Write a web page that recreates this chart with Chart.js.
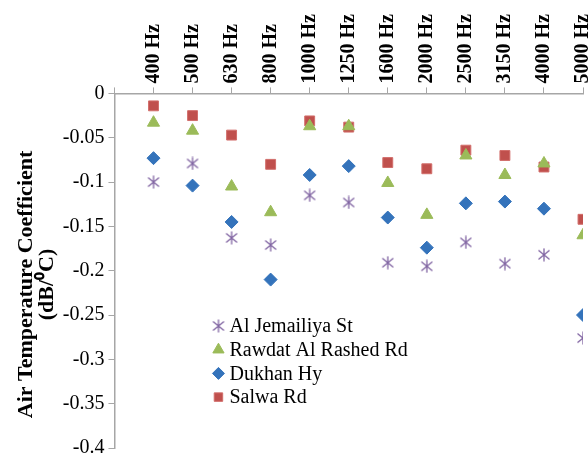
<!DOCTYPE html>
<html>
<head>
<meta charset="utf-8">
<script src="https://cdn.jsdelivr.net/npm/chart.js@4.4.0/dist/chart.umd.min.js"></script>
<style>
  html, body { margin: 0; padding: 0; background: #fff; overflow: hidden; }
  #wrap { width: 610px; height: 462px; position: relative; }
</style>
</head>
<body>
<div id="wrap"><canvas id="chart"></canvas></div>
<script>
// ---- data ----
const categories = ['400 Hz', '500 Hz', '630 Hz', '800 Hz', '1000 Hz', '1250 Hz',
  '1600 Hz', '2000 Hz', '2500 Hz', '3150 Hz', '4000 Hz', '5000 Hz'];
const alJemailiya = [-0.100, -0.079, -0.163, -0.171, -0.115, -0.123, -0.191, -0.195, -0.168, -0.192, -0.182, -0.276];
const rawdatAlRashed = [-0.033, -0.042, -0.105, -0.134, -0.037, -0.037, -0.101, -0.137, -0.070, -0.092, -0.079, -0.160];
const dukhanHy = [-0.073, -0.104, -0.145, -0.210, -0.092, -0.082, -0.140, -0.174, -0.124, -0.122, -0.130, -0.250];
const salwaRd = [-0.014, -0.025, -0.047, -0.080, -0.031, -0.038, -0.078, -0.085, -0.064, -0.070, -0.083, -0.142];
const yTicks = [0, -0.05, -0.1, -0.15, -0.2, -0.25, -0.3, -0.35, -0.4];

const FONT = "'Liberation Serif', 'Times New Roman', serif";
const AXIS = '#a6a6a6';
const NB = '\u00a0\u00a0\u00a0\u00a0\u00a0'; // nudges the rotated title a bit lower, like the original

// Excel style star marker: X plus a vertical bar
function makeStar(color) {
  const c = document.createElement('canvas');
  c.width = 14; c.height = 14;
  const g = c.getContext('2d');
  g.strokeStyle = color; g.lineWidth = 1.3;
  g.beginPath();
  g.moveTo(7, 0.5); g.lineTo(7, 13.5);
  g.moveTo(1.5, 2.5); g.lineTo(12.5, 11.5);
  g.moveTo(12.5, 2.5); g.lineTo(1.5, 11.5);
  g.stroke();
  return c;
}
const starImg = makeStar('#8064a2');

const toPts = arr => arr.map((v, i) => ({ x: i + 1, y: v }));

// legend drawn inside the plot
const innerLegend = {
  id: 'innerLegend',
  afterDatasetsDraw(chart) {
    const { ctx, chartArea } = chart;
    const x0 = chartArea.left + 104, y0 = 326, step = 23.7;
    ctx.save();
    ctx.font = '20px ' + FONT;
    ctx.textBaseline = 'middle';
    chart.data.datasets.forEach((ds, i) => {
      const y = y0 + i * step;
      ctx.fillStyle = ds.backgroundColor;
      ctx.strokeStyle = ds.borderColor;
      ctx.lineWidth = 1;
      Chart.helpers.drawPoint(ctx, { pointStyle: ds.pointStyle, radius: ds.legendRadius, rotation: 0, borderWidth: 1 }, x0, y);
      ctx.fillStyle = '#000';
      ctx.fillText(ds.label, x0 + 11, y + 1);
    });
    ctx.restore();
  }
};

new Chart(document.getElementById('chart'), {
  type: 'scatter',
  data: {
    datasets: [
      { label: 'Al Jemailiya St', data: toPts(alJemailiya), pointStyle: starImg,
        backgroundColor: '#8064a2', borderColor: '#8064a2', legendRadius: 7 },
      { label: 'Rawdat Al Rashed Rd', data: toPts(rawdatAlRashed), pointStyle: 'triangle',
        backgroundColor: '#9bbb59', borderColor: '#9bbb59', pointRadius: 7, legendRadius: 6.5 },
      { label: 'Dukhan Hy', data: toPts(dukhanHy), pointStyle: 'rectRot',
        backgroundColor: '#3473bb', borderColor: '#3473bb', pointRadius: 6.5, legendRadius: 6 },
      { label: 'Salwa Rd', data: toPts(salwaRd), pointStyle: 'rect',
        backgroundColor: '#c0504d', borderColor: '#d26e6b', pointRadius: 7, legendRadius: 6 }
    ]
  },
  options: {
    responsive: true,
    maintainAspectRatio: false,
    animation: false,
    layout: { padding: { left: 16, top: 10, right: 27, bottom: 14 } },
    plugins: { legend: { display: false }, tooltip: { enabled: false } },
    elements: { point: { radius: 7, borderWidth: 1 } },
    scales: {
      x: {
        type: 'linear', position: 'top', min: 0, max: 12,
        afterBuildTicks: s => { s.ticks = categories.map((c, i) => ({ value: i + 1 })); s.ticks.unshift({ value: 0 }); },
        ticks: {
          autoSkip: false, minRotation: 90, maxRotation: 90, padding: 4, labelOffset: 24,
          color: '#000', font: { family: FONT, size: 20, weight: 'bold' },
          callback: v => categories[v - 1] || ''
        },
        grid: { drawOnChartArea: false, color: AXIS, tickLength: 6 },
        border: { color: AXIS, width: 1.5 }
      },
      y: {
        min: -0.4, max: 0,
        afterBuildTicks: s => { s.ticks = yTicks.map(v => ({ value: v })); },
        ticks: {
          padding: 4, color: '#000', font: { family: FONT, size: 20, lineHeight: 1 },
          callback: v => String(Number(v.toFixed(2)))
        },
        grid: { drawOnChartArea: false, color: AXIS, tickLength: 6 },
        border: { color: AXIS, width: 1.5 },
        title: {
          display: true, text: ['Air Temperature Coefficient' + NB, '(dB/\u2070C)' + NB],
          color: '#000', font: { family: FONT, size: 22, weight: 'bold', lineHeight: 0.95 },
          padding: { top: 0, bottom: 1 }
        }
      }
    }
  },
  plugins: [innerLegend]
});
</script>
</body>
</html>
